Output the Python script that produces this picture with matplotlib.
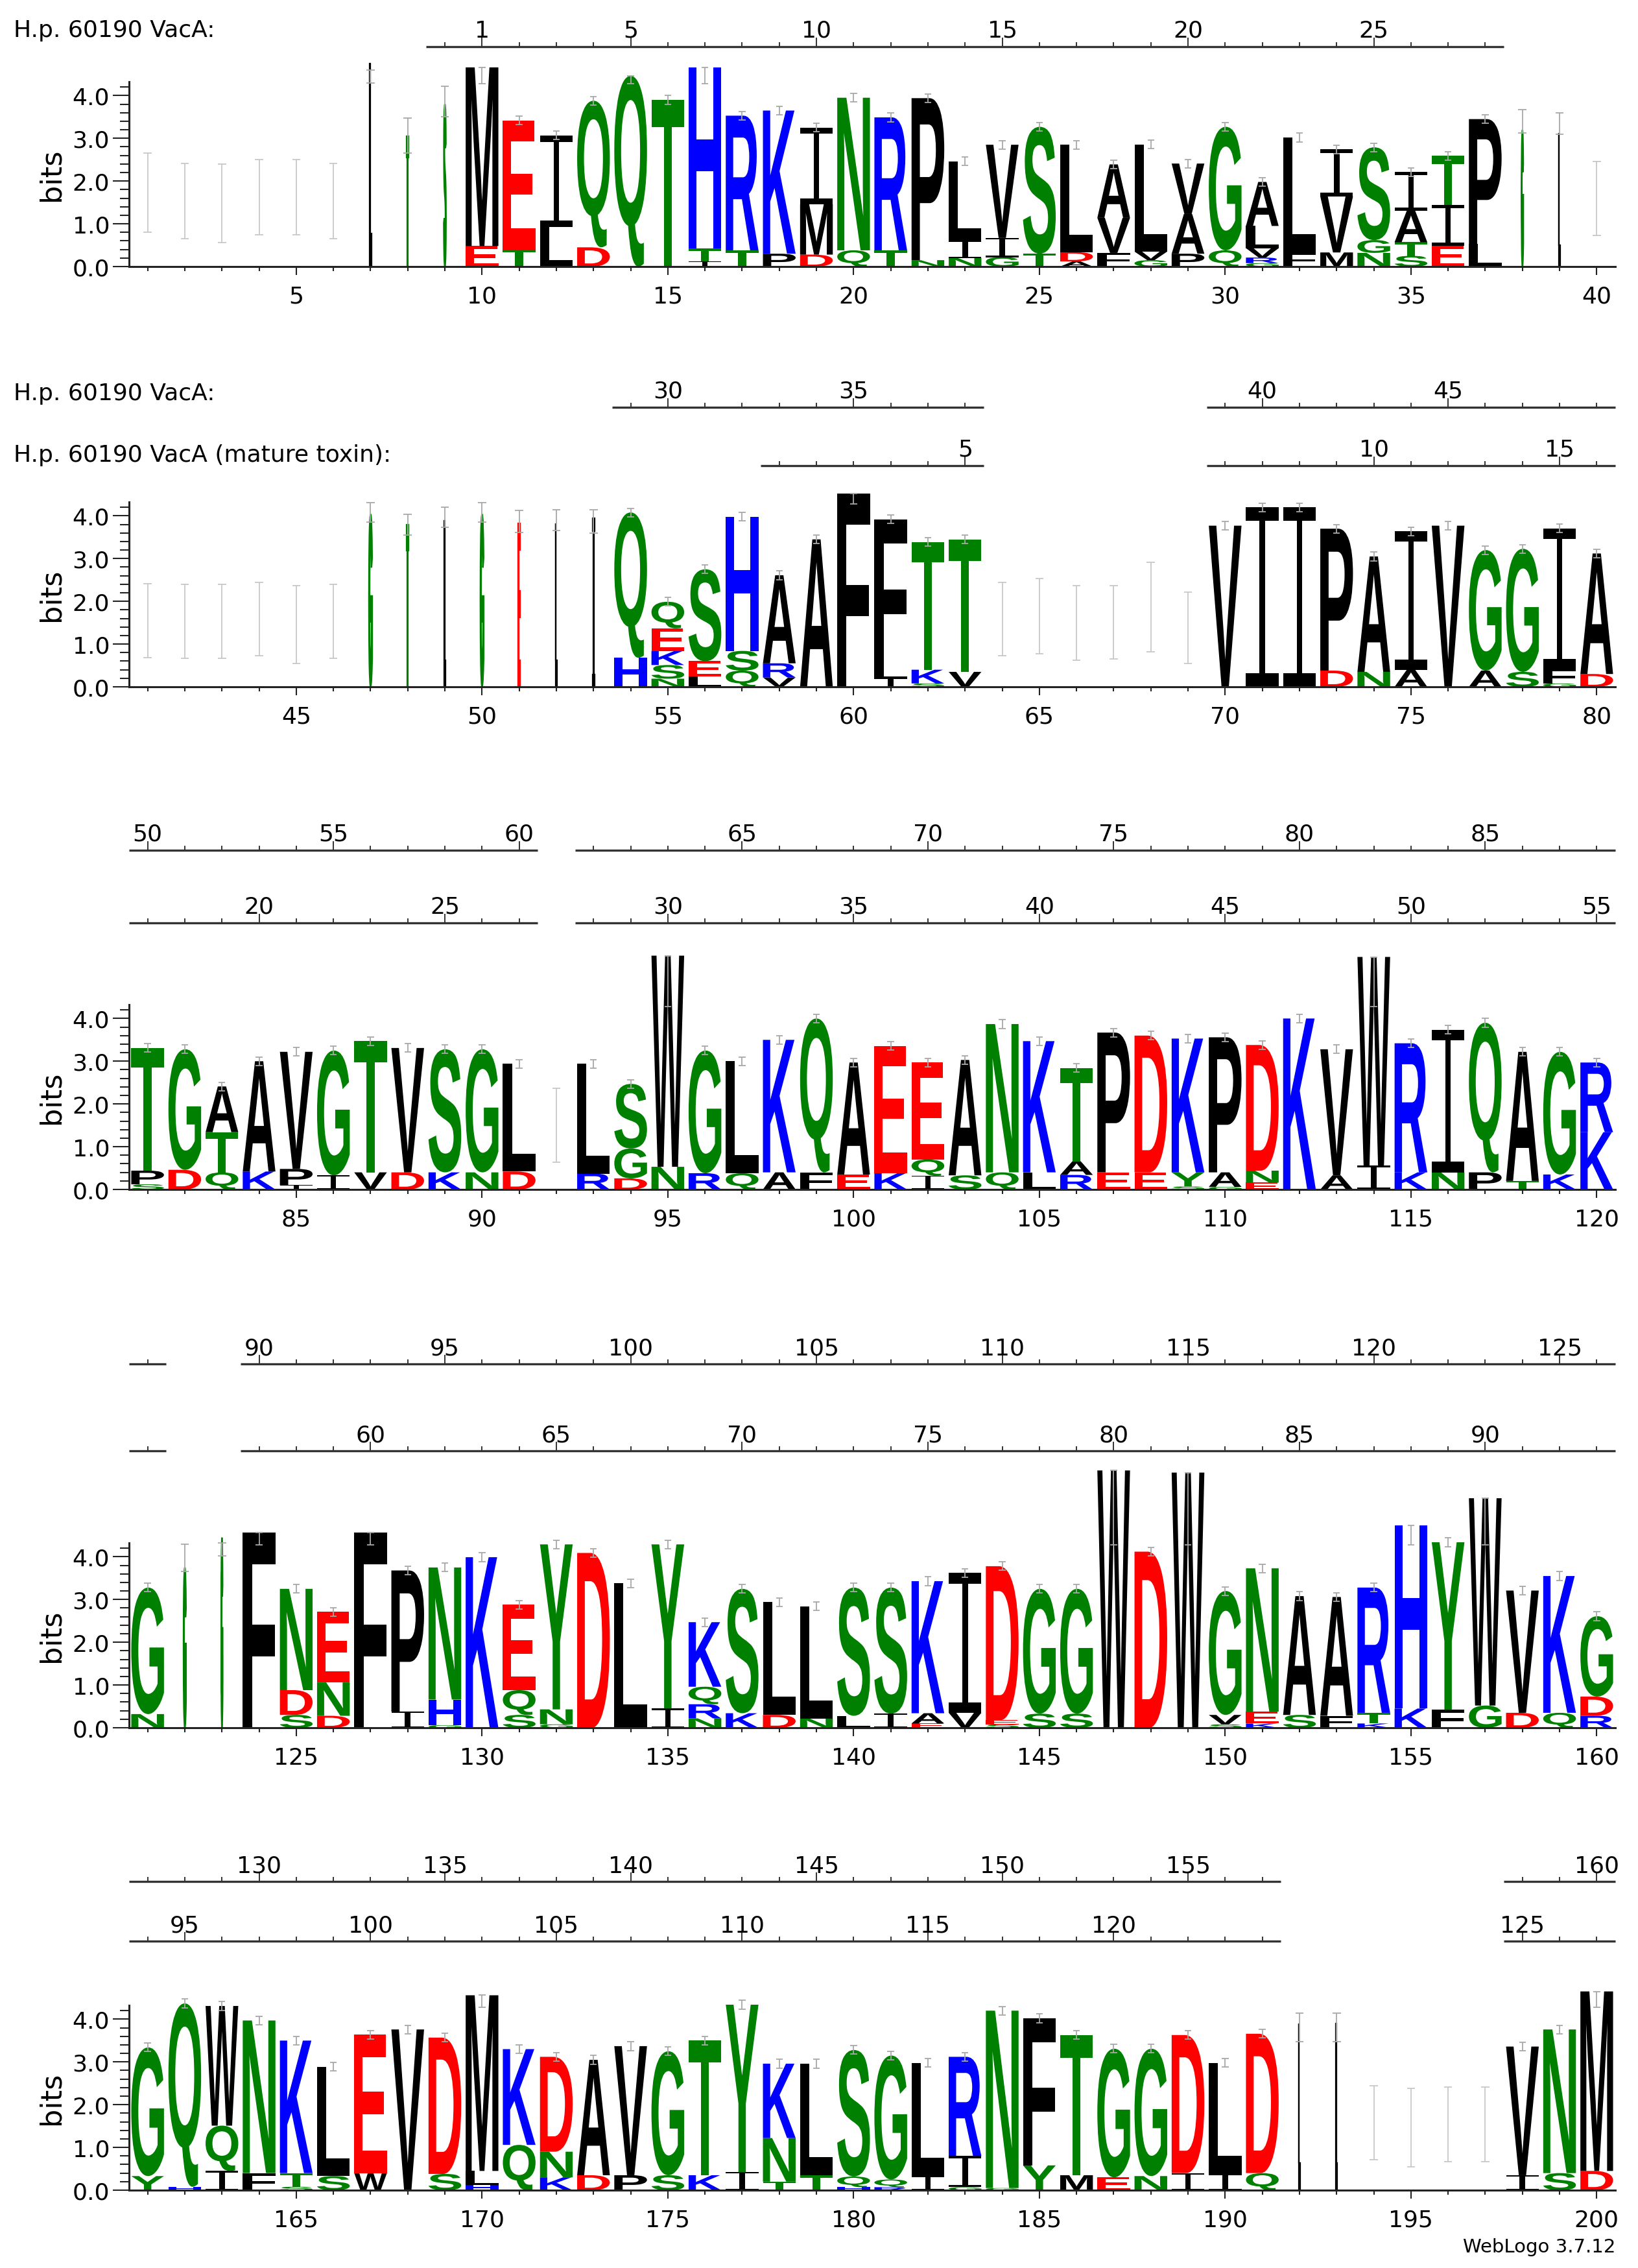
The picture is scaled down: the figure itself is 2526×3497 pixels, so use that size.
"""
Sequence logo (WebLogo style) of VacA alignment, positions 1-200, five rows.
"""

import matplotlib
matplotlib.use('Agg')

import matplotlib.pyplot as plt
from matplotlib.font_manager import FontProperties
from matplotlib.patches import PathPatch
from matplotlib.path import Path
from matplotlib.textpath import TextPath
from matplotlib.ticker import MultipleLocator, FixedLocator
from matplotlib.transforms import Affine2D, blended_transform_factory


# --- Data: stacks bottom -> top, (residue, bits) ---
PANEL_FIRST = [1, 41, 81, 121, 161]

STACKS_1 = [
    [], [], [], [], [], [],                                        # 1-6
    [('L', 4.75)],                                                 # 7
    [('T', 3.05)],                                                 # 8
    [('S', 3.80)],                                                 # 9
    [('E', 0.48), ('M', 4.18)],                                    # 10
    [('T', 0.40), ('E', 3.02)],                                    # 11
    [('L', 0.92), ('I', 2.15)],                                    # 12
    [('D', 0.45), ('Q', 3.43)],                                    # 13
    [('Q', 4.46)],                                                 # 14
    [('T', 3.90)],                                                 # 15
    [('I', 0.12), ('T', 0.30), ('H', 4.24)],                       # 16
    [('T', 0.38), ('R', 3.15)],                                    # 17
    [('P', 0.30), ('K', 3.35)],                                    # 18
    [('D', 0.28), ('M', 1.18), ('I', 1.79)],                       # 19
    [('Q', 0.38), ('N', 3.57)],                                    # 20
    [('T', 0.38), ('R', 3.11)],                                    # 21
    [('N', 0.15), ('P', 3.79)],                                    # 22
    [('N', 0.20), ('I', 0.40), ('L', 1.86)],                       # 23
    [('G', 0.22), ('I', 0.45), ('V', 2.18)],                       # 24
    [('T', 0.30), ('S', 2.97)],                                    # 25
    [('A', 0.12), ('D', 0.22), ('L', 2.51)],                       # 26
    [('F', 0.32), ('V', 0.82), ('A', 1.25)],                       # 27
    [('G', 0.15), ('V', 0.20), ('L', 2.51)],                       # 28
    [('P', 0.30), ('A', 0.93), ('V', 1.18)],                       # 29
    [('Q', 0.38), ('G', 2.89)],                                    # 30
    [('G', 0.08), ('R', 0.13), ('V', 0.22), ('L', 0.52), ('A', 1.03)],  # 31
    [('F', 0.33), ('L', 2.69)],                                    # 32
    [('M', 0.33), ('V', 1.31), ('I', 1.10)],                       # 33
    [('N', 0.32), ('G', 0.30), ('S', 2.17)],                       # 34
    [('S', 0.25), ('T', 0.32), ('A', 0.74), ('I', 0.90)],          # 35
    [('E', 0.49), ('I', 0.95), ('T', 1.15)],                       # 36
    [('L', 0.53), ('P', 2.92)],                                    # 37
    [('G', 3.20)],                                                 # 38
    [('L', 3.12)],                                                 # 39
    [],                                                            # 40
]

STACKS_2 = [
    [], [], [], [], [], [],                                        # 41-46
    [('G', 4.04)],                                                 # 47
    [('T', 3.80)],                                                 # 48
    [('L', 3.88)],                                                 # 49
    [('G', 4.04)],                                                 # 50
    [('E', 3.82)],                                                 # 51
    [('L', 3.82)],                                                 # 52
    [('I', 3.94)],                                                 # 53
    [('H', 0.68), ('Q', 3.40)],                                    # 54
    [('N', 0.19), ('S', 0.32), ('K', 0.33), ('E', 0.53), ('Q', 0.62)],  # 55
    [('L', 0.25), ('E', 0.35), ('S', 2.15)],                       # 56
    [('Q', 0.38), ('S', 0.46), ('H', 3.14)],                       # 57
    [('V', 0.22), ('R', 0.33), ('A', 2.06)],                       # 58
    [('A', 3.45)],                                                 # 59
    [('F', 4.52)],                                                 # 60
    [('I', 0.20), ('L', 0.22), ('F', 3.50)],                       # 61
    [('S', 0.08), ('K', 0.32), ('T', 2.99)],                       # 62
    [('V', 0.35), ('T', 3.10)],                                    # 63
    [], [], [], [], [], [],                                        # 64-69
    [('V', 3.77)],                                                 # 70
    [('I', 4.20)],                                                 # 71
    [('I', 4.20)],                                                 # 72
    [('D', 0.38), ('P', 3.32)],                                    # 73
    [('N', 0.35), ('A', 2.70)],                                    # 74
    [('A', 0.40), ('I', 3.24)],                                    # 75
    [('V', 3.77)],                                                 # 76
    [('A', 0.38), ('G', 2.82)],                                    # 77
    [('S', 0.35), ('G', 2.88)],                                    # 78
    [('G', 0.08), ('F', 0.33), ('I', 3.30)],                       # 79
    [('D', 0.30), ('A', 2.82)],                                    # 80
]

STACKS_3 = [
    [('S', 0.12), ('P', 0.32), ('T', 2.87)],                       # 81
    [('D', 0.46), ('G', 2.82)],                                    # 82
    [('Q', 0.40), ('T', 0.94), ('A', 1.07)],                       # 83
    [('K', 0.42), ('A', 2.58)],                                    # 84
    [('I', 0.10), ('P', 0.38), ('V', 2.74)],                       # 85
    [('I', 0.33), ('G', 2.92)],                                    # 86
    [('V', 0.40), ('T', 3.07)],                                    # 87
    [('D', 0.40), ('V', 2.91)],                                    # 88
    [('K', 0.40), ('S', 2.88)],                                    # 89
    [('N', 0.40), ('G', 2.88)],                                    # 90
    [('D', 0.42), ('L', 2.52)],                                    # 91
    [],                                                            # 92
    [('R', 0.37), ('L', 2.57)],                                    # 93
    [('D', 0.26), ('G', 0.70), ('S', 1.51)],                       # 94
    [('N', 0.53), ('W', 4.94)],                                    # 95
    [('R', 0.38), ('G', 2.87)],                                    # 96
    [('Q', 0.38), ('L', 2.62)],                                    # 97
    [('A', 0.40), ('K', 3.10)],                                    # 98
    [('F', 0.40), ('Q', 3.60)],                                    # 99
    [('E', 0.35), ('A', 2.62)],                                    # 100
    [('K', 0.38), ('E', 2.98)],                                    # 101
    [('I', 0.32), ('Q', 0.38), ('E', 2.27)],                       # 102
    [('S', 0.33), ('A', 2.70)],                                    # 103
    [('Q', 0.40), ('N', 3.47)],                                    # 104
    [('L', 0.40), ('K', 3.07)],                                    # 105
    [('R', 0.34), ('A', 0.32), ('T', 2.18)],                       # 106
    [('E', 0.40), ('P', 3.27)],                                    # 107
    [('E', 0.40), ('D', 3.20)],                                    # 108
    [('S', 0.07), ('Y', 0.33), ('K', 3.13)],                       # 109
    [('G', 0.06), ('A', 0.34), ('P', 3.16)],                       # 110
    [('E', 0.16), ('N', 0.28), ('D', 2.94)],                       # 111
    [('K', 4.00)],                                                 # 112
    [('A', 0.33), ('V', 2.95)],                                    # 113
    [('I', 0.56), ('W', 4.88)],                                    # 114
    [('K', 0.40), ('R', 3.02)],                                    # 115
    [('N', 0.40), ('I', 3.34)],                                    # 116
    [('P', 0.40), ('Q', 3.50)],                                    # 117
    [('T', 0.20), ('A', 3.02)],                                    # 118
    [('K', 0.35), ('G', 2.87)],                                    # 119
    [('K', 1.34), ('R', 1.63)],                                    # 120
]

STACKS_4 = [
    [('N', 0.32), ('G', 2.96)],                                    # 121
    [('G', 3.75)],                                                 # 122
    [('G', 4.45)],                                                 # 123
    [('F', 4.56)],                                                 # 124
    [('S', 0.30), ('D', 0.58), ('N', 2.37)],                       # 125
    [('D', 0.28), ('N', 0.78), ('E', 1.65)],                       # 126
    [('F', 4.56)],                                                 # 127
    [('I', 0.38), ('P', 3.30)],                                    # 128
    [('G', 0.06), ('H', 0.60), ('N', 3.09)],                       # 129
    [('K', 3.99)],                                                 # 130
    [('S', 0.30), ('Q', 0.58), ('E', 2.00)],                       # 131
    [('G', 0.08), ('N', 0.35), ('Y', 3.86)],                       # 132
    [('D', 4.09)],                                                 # 133
    [('L', 3.38)],                                                 # 134
    [('I', 0.45), ('Y', 3.84)],                                    # 135
    [('N', 0.22), ('R', 0.33), ('Q', 0.41), ('K', 1.51)],          # 136
    [('K', 0.34), ('S', 2.91)],                                    # 137
    [('D', 0.30), ('L', 2.64)],                                    # 138
    [('N', 0.22), ('L', 2.62)],                                    # 139
    [('L', 0.28), ('S', 3.00)],                                    # 140
    [('I', 0.33), ('S', 2.95)],                                    # 141
    [('E', 0.10), ('A', 0.24), ('K', 3.09)],                       # 142
    [('V', 0.35), ('I', 3.27)],                                    # 143
    [('S', 0.08), ('E', 0.10), ('D', 3.60)],                       # 144
    [('S', 0.33), ('G', 2.92)],                                    # 145
    [('S', 0.33), ('G', 2.92)],                                    # 146
    [('W', 6.02)],                                                 # 147
    [('D', 4.12)],                                                 # 148
    [('W', 5.97)],                                                 # 149
    [('S', 0.08), ('V', 0.22), ('G', 2.90)],                       # 150
    [('K', 0.10), ('E', 0.28), ('N', 3.35)],                       # 151
    [('S', 0.30), ('A', 2.78)],                                    # 152
    [('F', 0.28), ('A', 2.78)],                                    # 153
    [('K', 0.10), ('T', 0.25), ('R', 2.93)],                       # 154
    [('K', 0.45), ('H', 4.29)],                                    # 155
    [('F', 0.42), ('Y', 3.92)],                                    # 156
    [('G', 0.52), ('W', 4.85)],                                    # 157
    [('D', 0.35), ('V', 2.86)],                                    # 158
    [('Q', 0.35), ('K', 3.20)],                                    # 159
    [('R', 0.28), ('D', 0.45), ('G', 1.88)],                       # 160
]

STACKS_5 = [
    [('Y', 0.33), ('G', 3.01)],                                    # 161
    [('H', 0.08), ('Q', 4.29)],                                    # 162
    [('I', 0.45), ('Q', 1.06), ('W', 2.80)],                       # 163
    [('F', 0.40), ('N', 3.57)],                                    # 164
    [('S', 0.08), ('T', 0.32), ('K', 3.10)],                       # 165
    [('S', 0.33), ('L', 2.56)],                                    # 166
    [('W', 0.40), ('E', 3.24)],                                    # 167
    [('V', 3.76)],                                                 # 168
    [('S', 0.38), ('D', 3.19)],                                    # 169
    [('H', 0.12), ('L', 0.33), ('M', 4.11)],                       # 170
    [('Q', 1.06), ('K', 2.24)],                                    # 171
    [('K', 0.30), ('N', 0.60), ('D', 2.22)],                       # 172
    [('D', 0.35), ('A', 2.70)],                                    # 173
    [('P', 0.35), ('V', 3.02)],                                    # 174
    [('S', 0.35), ('G', 2.90)],                                    # 175
    [('K', 0.35), ('T', 3.15)],                                    # 176
    [('I', 0.42), ('Y', 3.92)],                                    # 177
    [('T', 0.20), ('N', 1.02), ('K', 1.74)],                       # 178
    [('T', 0.35), ('L', 2.61)],                                    # 179
    [('H', 0.07), ('Q', 0.25), ('S', 2.96)],                       # 180
    [('R', 0.07), ('Q', 0.18), ('G', 2.90)],                       # 181
    [('I', 0.33), ('L', 2.65)],                                    # 182
    [('G', 0.07), ('I', 0.73), ('R', 2.32)],                       # 183
    [('G', 0.05), ('N', 4.15)],                                    # 184
    [('Y', 0.58), ('F', 3.44)],                                    # 185
    [('M', 0.35), ('T', 3.28)],                                    # 186
    [('E', 0.30), ('G', 3.01)],                                    # 187
    [('N', 0.33), ('G', 2.98)],                                    # 188
    [('I', 0.40), ('D', 3.23)],                                    # 189
    [('I', 0.38), ('L', 2.60)],                                    # 190
    [('Q', 0.40), ('D', 3.26)],                                    # 191
    [('L', 3.90)],                                                 # 192
    [('L', 3.90)],                                                 # 193
    [], [], [], [],                                                # 194-197
    [('I', 0.35), ('V', 3.01)],                                    # 198
    [('S', 0.40), ('N', 3.36)],                                    # 199
    [('D', 0.45), ('M', 4.20)],                                    # 200
]

ALL_STACKS = [STACKS_1, STACKS_2, STACKS_3, STACKS_4, STACKS_5]

# columns drawn as narrow slivers (mostly gaps): position -> relative width
THIN_WIDTHS = {7: 0.05, 8: 0.06, 9: 0.06, 38: 0.05, 39: 0.05, 47: 0.09,
               48: 0.06, 49: 0.04, 50: 0.09, 51: 0.05, 52: 0.04, 53: 0.06,
               122: 0.07, 123: 0.04, 192: 0.04, 193: 0.04}

# error bars read directly (empty and thin columns): position -> (low, high)
ERROR_BARS = {
    1: (0.81, 2.65), 2: (0.66, 2.41), 3: (0.56, 2.39), 4: (0.75, 2.50),
    5: (0.75, 2.50), 6: (0.66, 2.41), 7: (4.30, 4.60), 8: (2.65, 3.47),
    9: (3.50, 4.22), 38: (3.12, 3.67), 39: (3.10, 3.60), 40: (0.73, 2.46),
    41: (0.69, 2.42), 42: (0.67, 2.40), 43: (0.67, 2.40), 44: (0.73, 2.45),
    45: (0.54, 2.37), 46: (0.67, 2.40), 47: (3.85, 4.31), 48: (3.55, 4.04),
    49: (3.74, 4.21), 50: (3.85, 4.31), 51: (3.61, 4.12), 52: (3.66, 4.15),
    53: (3.60, 4.15), 64: (0.73, 2.45), 65: (0.77, 2.53), 66: (0.62, 2.37),
    67: (0.65, 2.37), 68: (0.82, 2.91), 69: (0.54, 2.22), 92: (0.63, 2.37),
    122: (3.65, 4.29), 123: (4.02, 4.32), 192: (3.47, 4.15), 193: (3.47, 4.15),
    194: (0.71, 2.44), 195: (0.55, 2.38), 196: (0.67, 2.41), 197: (0.67, 2.41),
}
ERR_HALF = 0.10       # half height of the small bars on stack tops
ERR_TALL_LOW = 4.28   # bars of very tall stacks start here

# coordinate rulers above the logos: (first pos, last pos, number at first pos)
RULER_A = [(9, 37, 0), (54, 63, 29), (70, 80, 39), (81, 91, 50), (93, 120, 61),
           (121, 121, 89), (124, 160, 90), (161, 191, 127), (198, 200, 158)]
RULER_B = [(58, 63, 0), (70, 80, 6), (81, 91, 17), (93, 120, 28),
           (121, 121, 56), (124, 160, 57), (161, 191, 94), (198, 200, 125)]
RULER_A_EXTRA = [1]

SEQ_NAMES = [(0, 'A', 'H.p. 60190 VacA:'),
             (1, 'A', 'H.p. 60190 VacA:'),
             (1, 'B', 'H.p. 60190 VacA (mature toxin):')]

Y_TICKS = [0, 1, 2, 3, 4]
Y_TICK_LABELS = ['0.0', '1.0', '2.0', '3.0', '4.0']

# --- Layout (pixels, 100 dpi) ---
FIG_W, FIG_H, DPI = 2526, 3498, 100
AX_LEFT_PX, AX_RIGHT_PX = 199, 2491
BITS_PX = 65.9
YMAX = 4.32
BASELINES_PX = [412, 1060, 1835, 2665, 3378]
RULER_A_Y = [73, 629, 1312, 2104, 2902]
RULER_B_Y = [None, 719, 1424, 2238, 2994]
NAME_BASELINE = {(0, 'A'): 57, (1, 'A'): 617, (1, 'B'): 712}
TEXT_PT = 26
LETTER_W = 0.88

GREEN, BLUE, RED, BLACK = '#008000', '#0000ff', '#ff0000', '#000000'
COLORS = {}
for _c in 'GSTYCQN':
    COLORS[_c] = GREEN
for _c in 'KRH':
    COLORS[_c] = BLUE
for _c in 'DE':
    COLORS[_c] = RED
for _c in 'PAWFLIMV':
    COLORS[_c] = BLACK

AXIS_COLOR = '#222222'
RULER_COLOR = '#333333'
ERR_COLOR = '#a8a8a8'
ERR_EMPTY_COLOR = '#c8c8c8'

GLYPH_PROP = FontProperties(family='Liberation Sans', weight='bold')
_glyph_cache = {}


def unit_glyph(ch):
    """Letter outline scaled to the unit square."""
    if ch not in _glyph_cache:
        if ch == 'I':
            # WebLogo draws I as an I-beam with slabs
            s, t = 0.085, 0.075
            verts = [(0, 0), (1, 0), (1, t), (0.5 + s, t), (0.5 + s, 1 - t),
                     (1, 1 - t), (1, 1), (0, 1), (0, 1 - t), (0.5 - s, 1 - t),
                     (0.5 - s, t), (0, t), (0, 0)]
            codes = [Path.MOVETO] + [Path.LINETO] * 11 + [Path.CLOSEPOLY]
            path = Path(verts, codes)
        else:
            tp = TextPath((0, 0), ch, size=1, prop=GLYPH_PROP)
            ext = tp.get_extents()
            path = tp.transformed(Affine2D()
                                  .translate(-ext.x0, -ext.y0)
                                  .scale(1.0 / ext.width, 1.0 / ext.height))
        _glyph_cache[ch] = path
    return _glyph_cache[ch]


def draw_stack(ax, pos, stack, width):
    y = 0.0
    thin = width < 0.2
    for ch, h in stack:
        path = unit_glyph(ch).transformed(
            Affine2D().scale(width, h).translate(pos - width / 2, y))
        color = COLORS[ch]
        # narrow (gappy) columns: stroke the outline so the sliver stays visible
        ax.add_patch(PathPatch(path, facecolor=color,
                               edgecolor=color if thin else 'none',
                               lw=1.6 if thin else 0,
                               clip_on=False, zorder=2))
        y += h
    return y


def draw_errbar(ax, x, lo, hi, color, cap):
    ax.vlines(x, lo, hi, colors=color, lw=1.3, zorder=3, clip_on=False)
    ax.hlines([lo, hi], x - cap, x + cap, colors=color, lw=1.3, zorder=3,
              clip_on=False)


def draw_ruler(fig, ax, segments, y_px, first, last, extra):
    trans = blended_transform_factory(ax.transData, fig.transFigure)
    yl = 1 - y_px / FIG_H
    for p0, p1, v0 in segments:
        if p1 < first or p0 > last:
            continue
        ax.plot([p0 - 0.5, p1 + 0.5], [yl, yl], transform=trans,
                color=RULER_COLOR, lw=2.4, clip_on=False,
                solid_capstyle='butt')
        for p in range(p0, p1 + 1):
            v = v0 + p - p0
            labelled = (v > 0 and v % 5 == 0) or v in extra
            tl = 13 if labelled else 6
            ax.plot([p, p], [yl, yl + tl / FIG_H], transform=trans,
                    color=RULER_COLOR, lw=1.4, clip_on=False)
            if labelled:
                ax.text(p, yl + 15 / FIG_H, str(v), transform=trans,
                        ha='center', va='baseline', fontsize=TEXT_PT)


def main():
    fig = plt.figure(figsize=(FIG_W / DPI, FIG_H / DPI), dpi=DPI)
    ax_h = YMAX * BITS_PX

    for i, first in enumerate(PANEL_FIRST):
        last = first + len(ALL_STACKS[i]) - 1
        base = BASELINES_PX[i]
        ax = fig.add_axes([AX_LEFT_PX / FIG_W, 1 - base / FIG_H,
                           (AX_RIGHT_PX - AX_LEFT_PX) / FIG_W, ax_h / FIG_H])
        ax.set_xlim(first - 0.5, last + 0.5)
        ax.set_ylim(0, YMAX)

        for k, stack in enumerate(ALL_STACKS[i]):
            pos = first + k
            width = THIN_WIDTHS.get(pos, LETTER_W)
            top = draw_stack(ax, pos, stack, width)
            if pos in ERROR_BARS:
                lo, hi = ERROR_BARS[pos]
                color = ERR_EMPTY_COLOR if not stack else ERR_COLOR
                draw_errbar(ax, pos, lo, hi, color, 0.11)
            elif stack:
                if top > ERR_TALL_LOW + ERR_HALF:
                    lo, hi = ERR_TALL_LOW, top
                else:
                    lo, hi = top - ERR_HALF, top + ERR_HALF
                draw_errbar(ax, pos, lo, hi, ERR_COLOR, 0.09)

        # axes styling
        for side in ('top', 'right'):
            ax.spines[side].set_visible(False)
        for side in ('left', 'bottom'):
            ax.spines[side].set_linewidth(2.2)
            ax.spines[side].set_color(AXIS_COLOR)
        ax.spines['left'].set_bounds(0, YMAX)

        majors = [p for p in range(first, last + 1) if p % 5 == 0]
        ax.set_xticks(majors)
        ax.set_xticklabels([str(p) for p in majors])
        ax.xaxis.set_minor_locator(FixedLocator(list(range(first, last + 1))))
        ax.set_yticks(Y_TICKS)
        ax.set_yticklabels(Y_TICK_LABELS)
        ax.yaxis.set_minor_locator(MultipleLocator(0.2))

        ax.tick_params(axis='y', which='major', length=18, width=1.5,
                       pad=3.5, labelsize=TEXT_PT, color=AXIS_COLOR)
        ax.tick_params(axis='y', which='minor', length=10, width=1.5,
                       color=AXIS_COLOR)
        ax.tick_params(axis='x', which='major', length=9.5, width=1.5,
                       pad=11, labelsize=TEXT_PT, color=AXIS_COLOR)
        ax.tick_params(axis='x', which='minor', length=5, width=1.5,
                       color=AXIS_COLOR)

        fig.text(79 / FIG_W, 1 - (base - ax_h / 2) / FIG_H, 'bits',
                 rotation=90, ha='center', va='center', fontsize=32)

        # rulers
        draw_ruler(fig, ax, RULER_A, RULER_A_Y[i], first, last, RULER_A_EXTRA)
        if RULER_B_Y[i] is not None:
            draw_ruler(fig, ax, RULER_B, RULER_B_Y[i], first, last, [])

    for panel, row, name in SEQ_NAMES:
        fig.text(21 / FIG_W, 1 - NAME_BASELINE[(panel, row)] / FIG_H, name,
                 ha='left', va='baseline', fontsize=TEXT_PT)

    fig.text(2491 / FIG_W, 1 - 3465 / FIG_H, 'WebLogo 3.7.12',
             ha='right', va='center', fontsize=21)

    fig.savefig('out.png', dpi=DPI)
    plt.close(fig)


if __name__ == '__main__':
    main()
